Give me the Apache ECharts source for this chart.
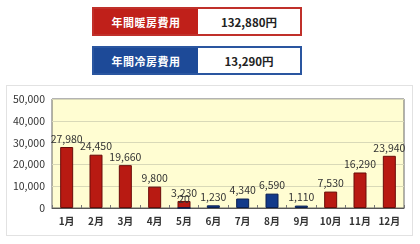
<!DOCTYPE html>
<html>
<head>
<meta charset="utf-8">
<script src="https://cdn.jsdelivr.net/npm/echarts@6/dist/echarts.min.js"></script>
<style>
  body { margin: 0; background: #fff; font-family: "Noto Sans CJK JP", sans-serif; }
  #wrap { position: relative; width: 420px; height: 244px; overflow: hidden; }
  .box { position: absolute; left: 92px; width: 206px; height: 25px; display: flex; }
  .box .name { width: 104px; color: #fff; font-weight: bold; font-size: 11px; letter-spacing: 0.5px;
               display: flex; align-items: center; justify-content: center; }
  .box .val { flex: 1; background: #fff; font-weight: bold; font-size: 11.5px; color: #222;
              display: flex; align-items: center; justify-content: center; }
  #heat { top: 7px; border: 2px solid #c0302a; }
  #heat .name { background: #c0201a; }
  #cool { top: 46px; border: 2px solid #2a56a0; }
  #cool .name { background: #1d4a98; }
  #panel { position: absolute; left: 6px; top: 85px; width: 405px; height: 149px;
           border: 1px solid #e2e2e2; background: #fff; }
  #chart { position: absolute; left: 0; top: 0; width: 420px; height: 244px; }
</style>
</head>
<body>
<div id="wrap">
  <div class="box" id="heat"><div class="name">年間暖房費用</div><div class="val" id="heatTotal"></div></div>
  <div class="box" id="cool"><div class="name">年間冷房費用</div><div class="val" id="coolTotal"></div></div>
  <div id="panel"></div>
  <div id="chart"></div>
</div>
<script>
// 月ラベル
var months = ["1月", "2月", "3月", "4月", "5月", "6月", "7月", "8月", "9月", "10月", "11月", "12月"];
// 暖房費用（円）
var heating = [27980, 24450, 19660, 9800, 3230, null, null, null, null, 7530, 16290, 23940];
// 冷房費用（円）
var cooling = [null, null, null, null, 20, 1230, 4340, 6590, 1110, null, null, null];
var yTicks = [0, 10000, 20000, 30000, 40000, 50000];

function fmt(v) {
  return String(v).replace(/\B(?=(\d{3})+(?!\d))/g, ",");
}
function sum(arr) {
  return arr.reduce(function (a, b) { return a + (b || 0); }, 0);
}

document.getElementById("heatTotal").textContent = fmt(sum(heating)) + "円";
document.getElementById("coolTotal").textContent = fmt(sum(cooling)) + "円";

var myChart = echarts.init(document.getElementById("chart"));

var labelStyle = {
  show: true,
  position: "top",
  distance: 3,
  fontSize: 10.5,
  color: "#333",
  fontFamily: "Noto Sans CJK JP",
  formatter: function (p) { return fmt(p.value); }
};

myChart.setOption({
  animation: false,
  grid: {
    left: 52, right: 16, top: 99, bottom: 36,
    show: true,
    backgroundColor: "#fffdd2",
    borderColor: "#666",
    borderWidth: 1
  },
  xAxis: {
    type: "category",
    data: months,
    axisLine: { lineStyle: { color: "#555" } },
    axisTick: { show: true, inside: true, length: 3, lineStyle: { color: "#777" } },
    axisLabel: { color: "#333", fontSize: 10, fontWeight: "bold", margin: 8, fontFamily: "Noto Sans CJK JP" }
  },
  yAxis: {
    type: "value",
    min: yTicks[0],
    max: yTicks[yTicks.length - 1],
    interval: 10000,
    axisLine: { show: false },
    axisTick: { show: false },
    splitLine: { lineStyle: { color: "#d9d9b8" } },
    axisLabel: {
      color: "#333", fontSize: 10.5, margin: 7, fontFamily: "Noto Sans CJK JP",
      formatter: function (v) { return fmt(v); }
    }
  },
  series: [
    {
      name: "暖房",
      type: "bar",
      data: heating,
      barWidth: 13,
      barGap: "-100%",
      z: 2,
      itemStyle: { color: "#b81a12", borderColor: "#6a0c08", borderWidth: 1 },
      label: labelStyle
    },
    {
      name: "冷房",
      type: "bar",
      data: cooling,
      barWidth: 13,
      z: 3,
      itemStyle: { color: "#123a8a", borderColor: "#0a1f50", borderWidth: 1 },
      label: labelStyle
    }
  ]
});
</script>
</body>
</html>
